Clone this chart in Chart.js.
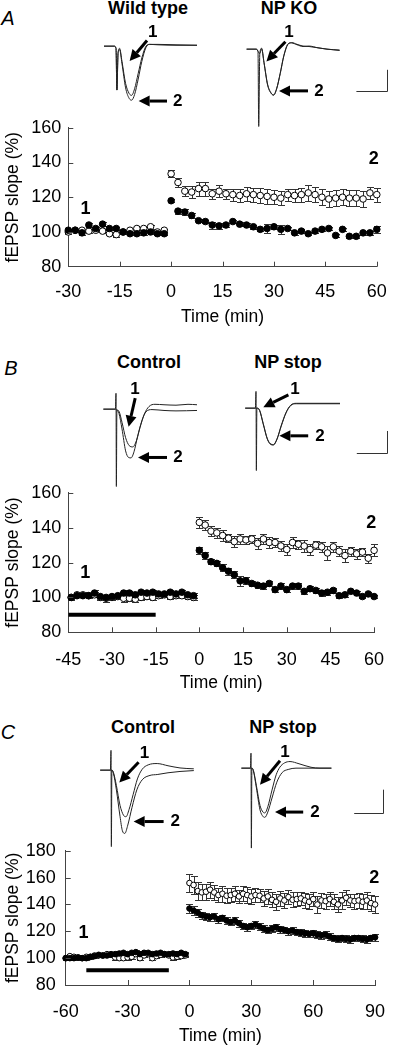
<!DOCTYPE html>
<html>
<head>
<meta charset="utf-8">
<script src="https://cdn.jsdelivr.net/npm/chart.js@4.4.0/dist/chart.umd.min.js"></script>
<style>
html, body { margin: 0; padding: 0; background: #fff; }
#page { position: relative; width: 401px; height: 1045px; overflow: hidden; font-family: "Liberation Sans", Arial, sans-serif; color: #000; }
#page canvas { position: absolute; }
.lbl { position: absolute; transform: translate(-50%, -50%); white-space: nowrap; line-height: 1; }
.ttl { font-weight: bold; font-size: 18px; }
.pl { font-style: italic; font-size: 20px; }
</style>
</head>
<body>
<div id="page">
  <div class="lbl pl" style="left:8px;top:18px">A</div>
  <div class="lbl ttl" style="left:148px;top:8px">Wild type</div>
  <div class="lbl ttl" style="left:289px;top:8px">NP KO</div>
  <div class="lbl pl" style="left:11px;top:368px">B</div>
  <div class="lbl ttl" style="left:149px;top:362px">Control</div>
  <div class="lbl ttl" style="left:288px;top:362px">NP stop</div>
  <div class="lbl pl" style="left:8px;top:732px">C</div>
  <div class="lbl ttl" style="left:143px;top:727px">Control</div>
  <div class="lbl ttl" style="left:283px;top:727px">NP stop</div>

  <canvas id="mainA" width="401" height="220" style="left:0;top:110px"></canvas>
  <canvas id="mainB" width="401" height="222" style="left:0;top:475px"></canvas>
  <canvas id="mainC" width="401" height="215" style="left:0;top:830px"></canvas>

  <canvas id="insetAL" width="162" height="123" style="left:97.7px;top:10.5px"></canvas>
  <canvas id="insetAR" width="162" height="123" style="left:240.3px;top:14.1px"></canvas>
  <canvas id="insetBL" width="162" height="123" style="left:97.7px;top:374.1px"></canvas>
  <canvas id="insetBR" width="162" height="123" style="left:238px;top:373.1px"></canvas>
  <canvas id="insetCL" width="162" height="123" style="left:92.7px;top:734.8px"></canvas>
  <canvas id="insetCR" width="162" height="123" style="left:233px;top:733.1px"></canvas>
</div>
<script>
// ---------- panel A : wild type (open) vs NP KO (filled) ----------
var timeA = [-30, -28, -26, -24, -22, -20, -18, -16, -14, -12, -10, -8, -6, -4, -2,
    0, 2, 4, 6, 8, 10, 12, 14, 16, 18, 20, 22, 24, 26, 28, 30, 32, 34, 36, 38, 40, 42, 44, 46, 48, 50, 52, 54, 56, 58, 60];
var wildTypeA = [100, 101, 101, 100.5, 101, 100.5, 99, 98.5, 100, 101, 102, 102, 103, 100, 101,
    133.5, 128.5, 123.5, 123, 125, 125, 122, 123.5, 122, 121.5, 121, 122, 121.5, 121, 120.5, 120,
    119.5, 121.5, 121, 121.5, 122.5, 121.5, 120, 119, 119.5, 120, 119.5, 119.5, 119, 122.5, 121.5];
var wildTypeErrA = [1, 1, 1, 1, 1, 1, 1, 1.5, 1, 1, 1, 1, 1, 1, 1,
    2, 2.5, 3, 3.5, 4, 4, 3, 3.5, 3, 3.5, 4, 4, 4, 4.5, 4.5, 4,
    4, 3.5, 4, 4, 4.5, 4.5, 4.5, 4.5, 4.5, 4.5, 4.5, 4.5, 4.5, 3.5, 4];
var npKoA = [101, 101, 99.5, 104, 102, 104.5, 102, 102, 100, 99, 99, 99.5, 100, 99, 99,
    118, 112, 111.5, 109.5, 106.5, 106, 104, 103.5, 104, 106, 104.5, 104, 103, 101.5, 102, 103,
    101.5, 102, 99.5, 100.5, 99, 100.5, 101.5, 102, 98, 101.5, 97.5, 97.5, 99.5, 99.5, 101.5];
var npKoErrA = [1, 1, 1, 1, 1, 1, 1, 1, 1, 1, 1, 1, 1, 1, 1,
    1, 1.5, 1.5, 1.5, 1, 1, 2, 1.5, 1, 1, 1, 1, 1, 1, 2.5, 1,
    2.5, 1, 1, 1, 1, 1, 1, 1, 1, 1, 1, 1, 1, 1, 2];
var xTicksA = [-30, -15, 0, 15, 30, 45, 60];
var yTicksA = [80, 100, 120, 140, 160];

// ---------- panel B : control (open) vs NP stop (filled) ----------
var timeB = [-44, -42, -40, -38, -36, -34, -32, -30, -28, -26, -24, -22, -20, -18, -16, -14, -12, -10, -8, -6, -4, -2,
    0, 2, 4, 6, 8, 10, 12, 14, 16, 18, 20, 22, 24, 26, 28, 30, 32, 34, 36, 38, 40, 42, 44, 46, 48, 50, 52, 54, 56, 58, 60];
var controlB = [100, 101.5, 101.5, 101, 101.5, 100, 99.5, 100, 100.5, 99.5, 99.5, 99, 100, 100.5, 100, 101, 101.5, 100.5, 101, 101, 100.5, 100,
    143, 141.5, 138, 137, 135.5, 134, 132, 133.5, 133, 133.5, 131, 133.5, 131.5, 131.5, 129.5, 127.5,
    131.5, 130.5, 129.5, 127.5, 130, 129, 125.5, 129, 126.5, 124, 126.5, 125, 126, 122.5, 127];
var controlErrB = [1.5, 1.5, 1.5, 1.5, 1.5, 1.5, 2, 1.5, 1.5, 2, 1.5, 1.5, 1.5, 1.5, 1.5, 1.5, 1.5, 1.5, 1.5, 1.5, 1.5, 1.5,
    3, 3, 3, 3, 3, 2.5, 3, 3, 2.5, 2.5, 3, 3, 3, 2.5, 3, 3,
    3, 2.5, 3.5, 3, 2.5, 3, 4, 3, 3, 3.5, 2.5, 3, 2.5, 2.5, 3.5];
var npStopB = [100, 101, 101, 101, 102.5, 100.5, 100, 100.5, 101, 102.5, 102.5, 101.5, 103, 102.5, 103, 102, 102, 103, 102, 103, 101.5, 101,
    127, 124, 120.5, 119.5, 117, 115, 113, 109.5, 109.5, 108, 107, 106.5, 108, 104.5, 106.5, 104.5,
    106.5, 106.5, 103.5, 105, 104, 102.5, 103, 104, 101, 101.5, 103.5, 102.5, 100.5, 102, 100.5];
var npStopErrB = [1, 1, 1, 1, 1.5, 1, 1, 1, 1, 1.5, 1, 1, 1.5, 1, 1, 1, 1, 1.5, 1, 1, 1, 1.5,
    2, 2, 1.5, 1.5, 2, 2, 2, 3, 2, 1.5, 1.5, 1.5, 1.5, 1.5, 1.5, 1.5,
    1.5, 1.5, 1.5, 1.5, 1.5, 1.5, 1.5, 1.5, 1.5, 1, 1, 1, 1, 1, 1];
var drugBarB = [-45, -15];
var xTicksB = [-45, -30, -15, 0, 15, 30, 45, 60];
var yTicksB = [80, 100, 120, 140, 160];

// ---------- panel C : control (open) vs NP stop (filled) ----------
var timeC = [-60, -58, -56, -54, -52, -50, -48, -46, -44, -42, -40, -38, -36, -34, -32, -30, -28, -26, -24, -22, -20, -18, -16, -14, -12, -10, -8, -6, -4, -2,
    0, 2, 4, 6, 8, 10, 12, 14, 16, 18, 20, 22, 24, 26, 28, 30, 32, 34, 36, 38, 40, 42, 44,
    46, 48, 50, 52, 54, 56, 58, 60, 62, 64, 66, 68, 70, 72, 74, 76, 78, 80, 82, 84, 86, 88, 90];
var controlC = [100, 101.5, 101, 100.5, 100, 101, 101, 102, 102, 102, 103, 102.5, 100.5, 100, 100, 100.5, 101, 103, 100, 102, 103, 100, 101.5, 102.5, 103, 102, 100.5, 101, 101.5, 102,
    156, 154.5, 150, 149, 149.5, 151, 149, 147, 148, 146.5, 147, 148, 146, 148, 147, 146, 147, 146.5, 144.5, 146, 143.5, 142, 144.5,
    143, 145.5, 143.5, 144, 144.5, 143, 142, 144, 140, 143, 142.5, 144, 142, 140, 143, 145, 143, 142.5, 143, 142, 143, 141, 140];
var controlErrC = [1.5, 1.5, 1.5, 1.5, 1.5, 1.5, 1.5, 1.5, 1.5, 1.5, 1.5, 1.5, 2, 1.5, 1.5, 1.5, 1.5, 1.5, 1.5, 1.5, 1.5, 1.5, 1.5, 1.5, 1.5, 1.5, 2, 1.5, 1.5, 1.5,
    7, 7, 6.5, 6, 6, 6, 5.5, 5.5, 6, 5.5, 5.5, 5.5, 5, 5.5, 6, 5.5, 5.5, 5, 5.5, 5.5, 5.5, 6, 5.5,
    5.5, 5, 5.5, 5.5, 5, 5.5, 5.5, 5.5, 6, 5.5, 5.5, 5, 5.5, 5.5, 6, 5.5, 5, 5.5, 5.5, 5.5, 6, 6, 6.5];
var npStopC = [100, 100, 100, 100.5, 100, 100, 101, 101.5, 102.5, 102, 102, 103, 103, 103.5, 104, 103, 104, 104.5, 103, 104, 104, 103, 103.5, 104, 103, 103, 103.5, 103, 104, 103,
    137, 135.5, 134, 132, 131, 130.5, 131, 129, 130, 128, 127, 128, 126, 124, 123, 124, 125, 123.5, 122, 121, 122, 123, 121.5,
    121, 120, 120.5, 119.5, 119, 118.5, 118, 118.5, 117.5, 117, 117.5, 116, 115, 114.5, 115, 114.5, 114, 115, 115, 114.5, 114, 115, 115.5];
var npStopErrC = [1.5, 1.5, 1.5, 1.5, 1.5, 1.5, 1.5, 1.5, 1.5, 1.5, 1.5, 1.5, 1.5, 1.5, 1.5, 1.5, 1.5, 1.5, 1.5, 1.5, 1.5, 1.5, 1.5, 1.5, 1.5, 1.5, 1.5, 1.5, 1.5, 1.5,
    3, 3, 3, 2.5, 2.5, 2.5, 3, 2.5, 2.5, 2.5, 2.5, 2.5, 2.5, 2.5, 2.5, 2.5, 2.5, 2.5, 2.5, 2.5, 2.5, 2.5, 2.5,
    2.5, 2.5, 2.5, 2.5, 2.5, 2.5, 2.5, 2.5, 2.5, 2.5, 2.5, 2.5, 2.5, 2.5, 2.5, 2.5, 2.5, 2.5, 2.5, 2.5, 2.5, 2.5, 2.5];
var drugBarC = [-50, -10];
var xTicksC = [-60, -30, 0, 30, 60, 90];
var yTicksC = [80, 100, 120, 140, 160, 180];

// ---------- example fEPSP traces, [ms, mV] ----------
var wtTrace1A = [[-2, 0], [-0.3, 0], [0, -0.05], [0.15, -1.0], [0.35, -0.15], [0.6, -0.05], [1.0, -0.35], [1.6, -0.85], [2.2, -1.08], [2.6, -1.12], [3.1, -0.97], [3.7, -0.62], [4.3, -0.27], [5.0, 0.0], [5.6, 0.04], [7, 0.03], [10, 0.02], [13.5, 0.02]];
var wtTrace2A = [[-2, 0], [-0.3, 0], [0, -0.05], [0.15, -1.0], [0.35, -0.15], [0.6, -0.08], [1.0, -0.4], [1.6, -0.95], [2.2, -1.19], [2.6, -1.23], [3.1, -1.1], [3.7, -0.75], [4.3, -0.35], [5.0, -0.03], [5.6, 0.04], [7, 0.04], [10, 0.03], [13.5, 0.02]];
var koTrace1A = [[-1.9, 0], [-0.3, 0], [0, -0.05], [0.12, -1.76], [0.3, -0.1], [0.6, 0.02], [1.0, -0.3], [1.6, -0.8], [2.2, -1.0], [2.6, -1.04], [3.1, -0.9], [3.7, -0.55], [4.3, -0.15], [5.0, 0.12], [5.6, 0.14], [6.5, 0.1], [7.5, 0.06], [8.5, 0.07], [10, 0.03], [11.5, 0.0], [13.6, -0.03]];
var koTrace2A = [[-1.9, 0], [-0.3, 0], [0.3, -0.1], [0.6, 0.01], [1.0, -0.31], [1.6, -0.82], [2.2, -1.01], [2.6, -1.05], [3.1, -0.91], [3.7, -0.56], [4.3, -0.16], [5.0, 0.11], [5.6, 0.15], [6.5, 0.11], [7.5, 0.07], [8.5, 0.06], [10, 0.03], [11.5, 0.0], [13.6, -0.02]];

var ctlTrace1B = [[-2.1, 0], [-0.1, 0], [0, 0.36], [0.06, -1.76], [0.15, -0.02], [0.5, -0.05], [1.0, -0.3], [1.6, -0.65], [2.2, -0.83], [2.8, -0.86], [3.4, -0.72], [4.0, -0.42], [4.7, -0.12], [5.5, 0.06], [6.5, 0.11], [8, 0.1], [10, 0.09], [12, 0.11], [13.5, 0.1]];
var ctlTrace2B = [[-2.1, 0], [-0.1, 0], [0.15, -0.02], [0.5, -0.1], [1.0, -0.45], [1.6, -0.95], [2.1, -1.1], [2.5, -1.11], [3.0, -0.97], [3.6, -0.62], [4.3, -0.27], [5.0, -0.06], [6, -0.01], [8, -0.03], [10, -0.04], [13.5, -0.03]];
var stopTrace1B = [[-1.8, 0], [-0.1, 0], [0, 0.38], [0.06, -1.42], [0.15, 0], [0.6, -0.05], [1.2, -0.35], [1.9, -0.7], [2.5, -0.82], [2.9, -0.83], [3.5, -0.7], [4.2, -0.4], [5.0, -0.1], [5.8, 0.07], [6.7, 0.11], [8, 0.11], [10, 0.11], [14, 0.11]];
var stopTrace2B = [[-1.8, 0], [-0.1, 0], [0.15, 0], [0.6, -0.05], [1.2, -0.36], [1.9, -0.71], [2.5, -0.83], [2.9, -0.84], [3.5, -0.71], [4.2, -0.41], [5.0, -0.11], [5.8, 0.06], [6.7, 0.1], [8, 0.1], [10, 0.1], [14, 0.1]];

var ctlTrace1C = [[-1.8, 0], [-0.1, 0], [0, 0.45], [0.06, -1.74], [0.15, 0], [0.4, -0.05], [0.9, -0.35], [1.5, -0.8], [2.1, -1.03], [2.5, -1.06], [3.0, -0.9], [3.7, -0.55], [4.4, -0.2], [5.2, 0.02], [6.2, 0.12], [7.7, 0.15], [9.5, 0.1], [11.5, 0.05], [13.8, 0.03]];
var ctlTrace2C = [[-1.8, 0], [-0.1, 0], [0.15, 0], [0.4, -0.07], [0.9, -0.45], [1.5, -1.05], [1.9, -1.38], [2.3, -1.44], [2.8, -1.25], [3.5, -0.85], [4.3, -0.45], [5.2, -0.22], [6.5, -0.12], [7.7, -0.1], [9.5, -0.06], [11.5, -0.03], [13.8, -0.01]];
var stopTrace1C = [[-1.6, 0], [-0.1, 0], [0, 0.34], [0.06, -1.82], [0.15, 0], [0.4, -0.05], [0.9, -0.4], [1.5, -0.85], [2.0, -1.0], [2.3, -1.02], [2.8, -0.88], [3.5, -0.5], [4.2, -0.15], [4.8, 0.02], [5.6, 0.12], [6.5, 0.15], [8, 0.1], [10, 0.02], [11.5, 0.0], [13.4, 0.0]];
var stopTrace2C = [[-1.6, 0], [-0.1, 0], [0.15, 0], [0.4, -0.06], [0.9, -0.45], [1.5, -0.95], [2.0, -1.1], [2.3, -1.12], [2.8, -1.0], [3.5, -0.68], [4.3, -0.32], [5.2, -0.1], [6.2, -0.03], [7.5, 0.0], [10, 0.0], [13.4, 0.0]];

Chart.defaults.font.family = '"Liberation Sans", Arial, sans-serif';
Chart.defaults.color = '#000';

var FONT = '"Liberation Sans", Arial, sans-serif';
var axisColor = '#444';

// "1" / "2" markers on the time courses, in data units
var mainMarks = {
    mainA: [{ n: '1', x: -25, y: 113.3 }, { n: '2', x: 59.1, y: 142 }],
    mainB: [{ n: '1', x: -39.2, y: 114.2 }, { n: '2', x: 59, y: 142.4 }],
    mainC: [{ n: '1', x: -51.4, y: 118.7 }, { n: '2', x: 89.6, y: 159.6 }]
};

// arrows and calibration bars on the traces, in ms / mV
var insetNotes = {
    insetAL: { arrows: [{ n: '1', tip: [2.27, -0.34], tail: [5.17, 0.13], label: [6.13, 0.31] },
                        { n: '2', tip: [3.77, -1.25], tail: [8.5, -1.25], label: [10.3, -1.25] }] },
    insetAR: { arrows: [{ n: '1', tip: [1.4, -0.28], tail: [4.57, 0.17], label: [5.15, 0.38] },
                        { n: '2', tip: [3.5, -0.95], tail: [8.33, -0.95], label: [10.15, -0.95] }],
               bar: { x0: 16.4, x1: 21.5, y0: -0.96, y1: -0.47 } },
    insetBL: { arrows: [{ n: '1', tip: [2.1, -0.4], tail: [3.2, 0.25], label: [3.17, 0.46] },
                        { n: '2', tip: [3.67, -1.1], tail: [8.5, -1.1], label: [10.35, -1.1] }] },
    insetBR: { arrows: [{ n: '1', tip: [1.22, 0.02], tail: [5.4, 0.3], label: [6.5, 0.43] },
                        { n: '2', tip: [3.9, -0.63], tail: [8.7, -0.63], label: [10.67, -0.63] }],
               bar: { x0: 16.8, x1: 21.9, y0: -1.02, y1: -0.52 } },
    insetCL: { arrows: [{ n: '1', tip: [1.38, -0.28], tail: [4.6, 0.18], label: [5.58, 0.38] },
                        { n: '2', tip: [3.77, -1.17], tail: [8.77, -1.17], label: [10.7, -1.17] }] },
    insetCR: { arrows: [{ n: '1', tip: [1.5, -0.38], tail: [4.83, 0.17], label: [5.67, 0.36] },
                        { n: '2', tip: [4.0, -1.0], tail: [8.7, -1.0], label: [10.67, -1.0] }],
               bar: { x0: 17.2, x1: 22.0, y0: -1.02, y1: -0.49 } }
};

function points(times, vals) {
    return times.map(function (t, i) { return { x: t, y: vals[i] }; });
}

var errorBars = {
    id: 'errorBars',
    beforeDatasetsDraw: function (chart) {
        var ctx = chart.ctx, xs = chart.scales.x, ys = chart.scales.y;
        ctx.save();
        ctx.strokeStyle = '#333';
        ctx.lineWidth = 1;
        chart.data.datasets.forEach(function (ds) {
            if (!ds.errors) return;
            ctx.beginPath();
            ds.data.forEach(function (p, i) {
                var px = Math.round(xs.getPixelForValue(p.x)) + 0.5;
                var top = Math.round(ys.getPixelForValue(p.y + ds.errors[i])) + 0.5;
                var bot = Math.round(ys.getPixelForValue(p.y - ds.errors[i])) + 0.5;
                ctx.moveTo(px, top); ctx.lineTo(px, bot);
                ctx.moveTo(px - 3.5, top); ctx.lineTo(px + 3.5, top);
                ctx.moveTo(px - 3.5, bot); ctx.lineTo(px + 3.5, bot);
            });
            ctx.stroke();
        });
        ctx.restore();
    }
};

// inward tick marks and the "1" / "2" markers
var innerTicks = {
    id: 'innerTicks',
    afterDraw: function (chart) {
        var ctx = chart.ctx, xs = chart.scales.x, ys = chart.scales.y, a = chart.chartArea;
        ctx.save();
        ctx.strokeStyle = axisColor;
        ctx.lineWidth = 1;
        ctx.beginPath();
        xs.ticks.forEach(function (t) {
            if (t.value === xs.min) return;
            var px = Math.round(xs.getPixelForValue(t.value)) + 0.5;
            ctx.moveTo(px, a.bottom); ctx.lineTo(px, a.bottom - 5);
        });
        ys.ticks.forEach(function (t) {
            if (t.value === ys.min) return;
            var py = Math.round(ys.getPixelForValue(t.value)) + 0.5;
            ctx.moveTo(a.left, py); ctx.lineTo(a.left + 5, py);
        });
        ctx.stroke();
        ctx.fillStyle = '#000';
        ctx.font = 'bold 18px ' + FONT;
        ctx.textAlign = 'center';
        ctx.textBaseline = 'middle';
        (mainMarks[chart.canvas.id] || []).forEach(function (m) {
            ctx.fillText(m.n, xs.getPixelForValue(m.x), ys.getPixelForValue(m.y));
        });
        ctx.restore();
    }
};

function buildMain(id, c) {
    var datasets = [
        { label: c.filledName, data: points(c.time, c.filled), errors: c.filledErr,
          pointRadius: c.r, pointBackgroundColor: '#000', pointBorderColor: '#000', pointBorderWidth: 1, clip: false },
        { label: c.openName, data: points(c.time, c.open), errors: c.openErr,
          pointRadius: c.r, pointBackgroundColor: '#fff', pointBorderColor: '#000', pointBorderWidth: 1, clip: false }
    ];
    if (c.bar) {
        datasets.push({ label: 'NP', data: [{ x: c.bar[0], y: c.barY }, { x: c.bar[1], y: c.barY }],
            showLine: true, borderColor: '#000', borderWidth: 4, pointRadius: 0, borderCapStyle: 'butt' });
    }
    new Chart(document.getElementById(id), {
        type: 'scatter',
        data: { datasets: datasets },
        plugins: [errorBars, innerTicks],
        options: {
            responsive: false,
            animation: false,
            events: [],
            layout: { padding: { top: c.padTop, right: c.padRight, left: 0, bottom: 0 } },
            plugins: { legend: { display: false }, tooltip: { enabled: false } },
            scales: {
                x: {
                    type: 'linear',
                    min: c.xTicks[0],
                    max: c.xTicks[c.xTicks.length - 1],
                    afterBuildTicks: function (s) { s.ticks = c.xTicks.map(function (v) { return { value: v }; }); },
                    afterFit: function (s) { s.height = c.xHeight; },
                    grid: { display: false, drawTicks: false },
                    border: { display: true, color: axisColor, width: 1 },
                    ticks: { padding: c.xPad, font: { size: 18 }, color: '#000', maxRotation: 0, autoSkip: false },
                    title: { display: true, text: 'Time (min)', color: '#000',
                             font: { size: 17.5, lineHeight: 1 }, padding: { top: 0, bottom: c.titlePad } }
                },
                y: {
                    min: c.yTicks[0],
                    max: c.yTicks[c.yTicks.length - 1],
                    afterBuildTicks: function (s) { s.ticks = c.yTicks.map(function (v) { return { value: v }; }); },
                    afterFit: function (s) { s.width = c.yWidth; },
                    grid: { display: false, drawTicks: false },
                    border: { display: true, color: axisColor, width: 1 },
                    ticks: { padding: c.yPad, font: { size: 18 }, color: '#000' },
                    title: { display: true, text: 'fEPSP slope (%)', color: '#000',
                             font: { size: 17.5, lineHeight: 1 }, padding: { top: 4.5, bottom: 0 } }
                }
            }
        }
    });
}

var insetDraw = {
    id: 'insetDraw',
    afterDraw: function (chart) {
        var notes = insetNotes[chart.canvas.id];
        if (!notes) return;
        var ctx = chart.ctx, xs = chart.scales.x, ys = chart.scales.y;
        ctx.save();
        ctx.fillStyle = '#000';
        ctx.strokeStyle = '#000';
        notes.arrows.forEach(function (a) {
            var tx = xs.getPixelForValue(a.tip[0]), ty = ys.getPixelForValue(a.tip[1]);
            var sx = xs.getPixelForValue(a.tail[0]), sy = ys.getPixelForValue(a.tail[1]);
            var ang = Math.atan2(ty - sy, tx - sx), head = 11, half = 5.5;
            var bx = tx - head * Math.cos(ang), by = ty - head * Math.sin(ang);
            ctx.lineWidth = 3;
            ctx.beginPath(); ctx.moveTo(sx, sy); ctx.lineTo(bx, by); ctx.stroke();
            ctx.beginPath();
            ctx.moveTo(tx, ty);
            ctx.lineTo(bx + half * Math.sin(ang), by - half * Math.cos(ang));
            ctx.lineTo(bx - half * Math.sin(ang), by + half * Math.cos(ang));
            ctx.closePath(); ctx.fill();
            ctx.font = 'bold 17px ' + FONT;
            ctx.textAlign = 'center';
            ctx.textBaseline = 'middle';
            ctx.fillText(a.n, xs.getPixelForValue(a.label[0]), ys.getPixelForValue(a.label[1]));
        });
        if (notes.bar) {
            var b = notes.bar;
            var x0 = xs.getPixelForValue(b.x0), x1 = Math.round(xs.getPixelForValue(b.x1)) + 0.5;
            var y0 = Math.round(ys.getPixelForValue(b.y0)) + 0.5, y1 = ys.getPixelForValue(b.y1);
            ctx.strokeStyle = '#333';
            ctx.lineWidth = 1;
            ctx.beginPath(); ctx.moveTo(x0, y0); ctx.lineTo(x1, y0); ctx.lineTo(x1, y1); ctx.stroke();
        }
        ctx.restore();
    }
};

function buildInset(id, traces) {
    new Chart(document.getElementById(id), {
        type: 'line',
        data: {
            datasets: traces.map(function (tr) {
                return { data: tr.map(function (p) { return { x: p[0], y: p[1] }; }),
                         borderColor: '#222', borderWidth: 1, pointRadius: 0,
                         cubicInterpolationMode: 'monotone', fill: false, clip: false };
            })
        },
        plugins: [insetDraw],
        options: {
            responsive: false,
            animation: false,
            events: [],
            layout: { padding: 0 },
            plugins: { legend: { display: false }, tooltip: { enabled: false } },
            scales: {
                x: { type: 'linear', display: false, min: -3, max: 24 },
                y: { type: 'linear', display: false, min: -2, max: 0.8 }
            }
        }
    });
}

buildMain('mainA', {
    time: timeA, open: wildTypeA, openErr: wildTypeErrA, openName: 'Wild type',
    filled: npKoA, filledErr: npKoErrA, filledName: 'NP KO',
    xTicks: xTicksA, yTicks: yTicksA, r: 3.3,
    padTop: 12.7, padRight: 9.3, xHeight: 63.3, yWidth: 68.3, xPad: 14.2, yPad: 7, titlePad: 4.5
});
buildMain('mainB', {
    time: timeB, open: controlB, openErr: controlErrB, openName: 'Control',
    filled: npStopB, filledErr: npStopErrB, filledName: 'NP stop',
    bar: drugBarB, barY: 90,
    xTicks: xTicksB, yTicks: yTicksB, r: 3.3,
    padTop: 13.3, padRight: 9.3, xHeight: 64.7, yWidth: 68.3, xPad: 16.9, yPad: 7, titlePad: 5.5
});
buildMain('mainC', {
    time: timeC, open: controlC, openErr: controlErrC, openName: 'Control',
    filled: npStopC, filledErr: npStopErrC, filledName: 'NP stop',
    bar: drugBarC, barY: 91,
    xTicks: xTicksC, yTicks: yTicksC, r: 2.8,
    padTop: 12.7, padRight: 13.3, xHeight: 60, yWidth: 65.7, xPad: 15.9, yPad: 10, titlePad: 0.3
});

buildInset('insetAL', [wtTrace1A, wtTrace2A]);
buildInset('insetAR', [koTrace1A, koTrace2A]);
buildInset('insetBL', [ctlTrace1B, ctlTrace2B]);
buildInset('insetBR', [stopTrace1B, stopTrace2B]);
buildInset('insetCL', [ctlTrace1C, ctlTrace2C]);
buildInset('insetCR', [stopTrace1C, stopTrace2C]);
</script>
</body>
</html>
